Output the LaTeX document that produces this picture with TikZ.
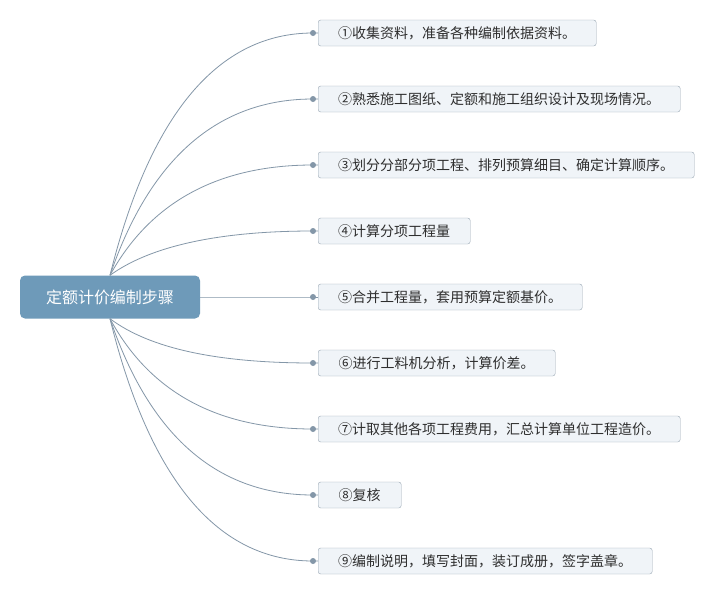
\documentclass[tikz,border=0pt]{standalone}
\usepackage{fontspec}
\setmainfont{Noto Sans CJK SC}
\usepackage{tikz}

\definecolor{rootblue}{HTML}{6E9AB9}
\definecolor{stepfill}{HTML}{F0F4F8}
\definecolor{stepline}{HTML}{98A6B3}
\definecolor{linkgray}{HTML}{8497A8}
\definecolor{textgray}{HTML}{2E2E2E}

\tikzset{
  rootbox/.style={fill=rootblue, rounded corners=5pt, minimum width=180pt, minimum height=43pt,
    text=white, font=\fontsize{16}{18}\selectfont, inner sep=0pt},
  stepbox/.style={draw=stepline, fill=stepfill, rounded corners=2.5pt, anchor=west, minimum height=26pt,
    text=textgray, font=\fontsize{14}{16}\selectfont, inner sep=0pt},
  link/.style={draw=linkgray, line width=0.8pt},
  knob/.style={fill=linkgray}
}

\begin{document}
\begin{tikzpicture}[x=1pt, y=-1pt]
            \fill[white] (0,0) rectangle (716,595);
            \useasboundingbox (0,0) rectangle (716,595);

            \node[rootbox] (root) at (110,297) {定额计价编制步骤};

            \node[stepbox, minimum width=278pt] (S1) at (318,33) {①收集资料，准备各种编制依据资料。};
            \node[stepbox, minimum width=362pt] (S2) at (318,99) {②熟悉施工图纸、定额和施工组织设计及现场情况。};
            \node[stepbox, minimum width=376pt] (S3) at (318,165) {③划分分部分项工程、排列预算细目、确定计算顺序。};
            \node[stepbox, minimum width=152pt] (S4) at (318,231) {④计算分项工程量};
            \node[stepbox, minimum width=264pt] (S5) at (318,297) {⑤合并工程量，套用预算定额基价。};
            \node[stepbox, minimum width=237pt] (S6) at (318,363) {⑥进行工料机分析，计算价差。};
            \node[stepbox, minimum width=362pt] (S7) at (318,429) {⑦计取其他各项工程费用，汇总计算单位工程造价。};
            \node[stepbox, minimum width=83pt] (S8) at (318,495) {⑧复核};
            \node[stepbox, minimum width=334pt] (S9) at (318,561) {⑨编制说明，填写封面，装订成册，签字盖章。};

            % dots in front of the boxes
            \coordinate (d1) at (313,33);
            \coordinate (d2) at (313,99);
            \coordinate (d3) at (313,165);
            \coordinate (d4) at (313,231);
            \coordinate (d5) at (313,297);
            \coordinate (d6) at (313,363);
            \coordinate (d7) at (313,429);
            \coordinate (d8) at (313,495);
            \coordinate (d9) at (313,561);

            \draw[link] (root.north) .. controls +(40,-161) and +(-95,0) .. (d1) -- (S1.west);
            \draw[link] (root.north) .. controls +(40,-117) and +(-95,0) .. (d2) -- (S2.west);
            \draw[link] (root.north) .. controls +(40,-73) and +(-95,0) .. (d3) -- (S3.west);
            \draw[link] (root.north) .. controls +(40,-29) and +(-95,0) .. (d4) -- (S4.west);
            \draw[link] (root.east) -- (d5) -- (S5.west);
            \draw[link] (root.south) .. controls +(40,30) and +(-95,0) .. (d6) -- (S6.west);
            \draw[link] (root.south) .. controls +(40,74) and +(-95,0) .. (d7) -- (S7.west);
            \draw[link] (root.south) .. controls +(40,118) and +(-95,0) .. (d8) -- (S8.west);
            \draw[link] (root.south) .. controls +(40,162) and +(-95,0) .. (d9) -- (S9.west);

            \fill[knob] (d1) circle (3pt);
            \fill[knob] (d2) circle (3pt);
            \fill[knob] (d3) circle (3pt);
            \fill[knob] (d4) circle (3pt);
            \fill[knob] (d5) circle (3pt);
            \fill[knob] (d6) circle (3pt);
            \fill[knob] (d7) circle (3pt);
            \fill[knob] (d8) circle (3pt);
            \fill[knob] (d9) circle (3pt);
        \end{tikzpicture}
\end{document}
